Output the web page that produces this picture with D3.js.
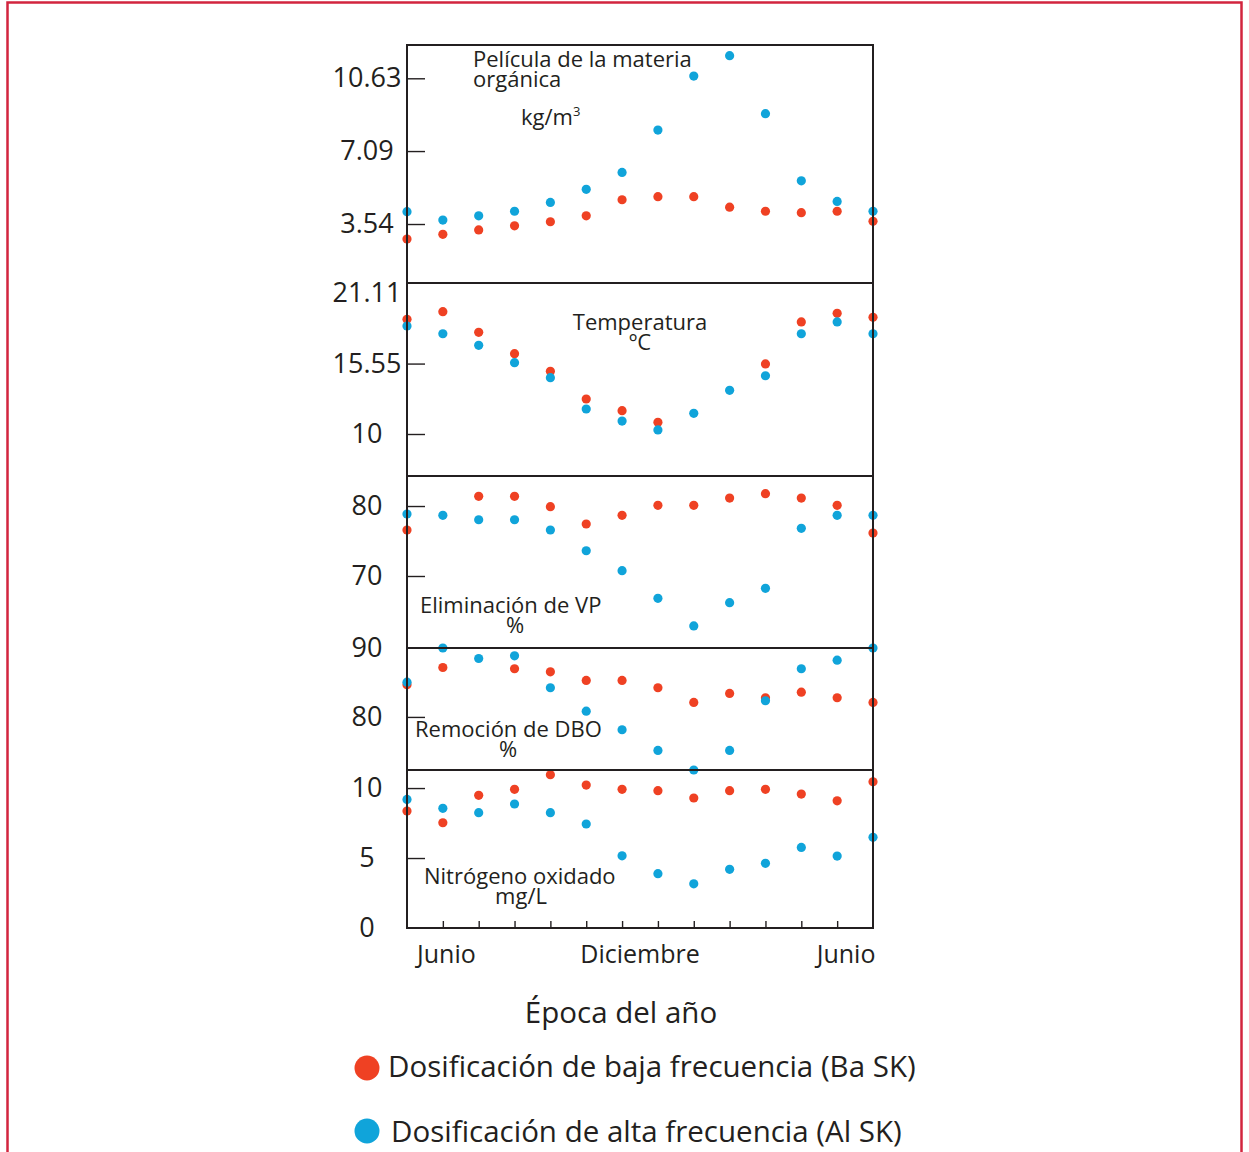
<!DOCTYPE html>
<html><head><meta charset="utf-8">
<script src="https://cdn.jsdelivr.net/npm/d3@7"></script>
<style>
body{margin:0;background:#fff}
svg{display:block}
text{font-family:"Open Sans",sans-serif;fill:#231f20}
</style>
</head><body>
<svg id="chart" width="1249" height="1152"></svg>
<script>
// ---------- DATA ----------
const periods = [0,1,2,3,4,5,6,7,8,9,10,11,12,13];
const xTickValues = [1,2,3,4,5,6,7,8,9,10,11,12];
const xLabels = ["Junio","Diciembre","Junio"];
const xLabelAt = [1.1, 6.5, 12.25];

const peliculaBa = [2.81,3.04,3.25,3.45,3.65,3.94,4.72,4.87,4.87,4.36,4.16,4.09,4.16,3.67];
const peliculaAl = [4.14,3.73,3.94,4.16,4.59,5.23,6.05,8.11,10.74,11.73,8.91,5.64,4.64,4.16];
const peliculaTicks = [3.54,7.09,10.63];
const peliculaDomain = [0.67,12.25];

const temperaturaBa = [19.04,19.64,18.01,16.33,14.94,12.76,11.84,10.92,null,null,15.52,18.83,19.51,19.20];
const temperaturaAl = [18.51,17.90,16.99,15.62,14.44,11.97,11.02,10.32,11.63,13.44,14.59,17.90,18.83,17.90];
const temperaturaTicks = [10,15.55,21.11];
const temperaturaDomain = [6.69,21.9];

const vpBa = [76.57,null,81.39,81.39,79.9,77.43,78.67,80.1,80.1,81.14,81.76,81.14,80.1,76.14];
const vpAl = [78.86,78.67,78.04,78.04,76.57,73.61,70.76,66.81,62.86,66.19,68.24,76.81,78.67,78.67];
const vpTicks = [70,80];
const vpDomain = [59.71,84.29];

const dboBa = [84.67,87.17,null,86.99,86.55,85.29,85.29,84.23,82.10,83.41,82.78,83.59,82.78,82.10];
const dboAl = [85.04,90.0,88.48,88.87,84.23,80.84,78.14,75.14,72.3,75.14,82.35,86.99,88.23,90.0];
const dboTicks = [80,90];
const dboDomain = [72.3,90];

const nitroBa = [8.36,7.52,9.48,9.91,10.95,10.21,9.91,9.81,9.29,9.81,9.91,9.57,9.09,10.45];
const nitroAl = [9.19,8.55,8.24,8.86,8.24,7.43,5.16,3.88,3.16,4.19,4.62,5.76,5.14,6.48];
const nitroTicks = [0,5,10];
const nitroDomain = [0,11.29];

const seriesNames = ["Dosificación de baja frecuencia (Ba SK)","Dosificación de alta frecuencia (Al SK)"];
const xTitle = "Época del año";

// ---------- LAYOUT ----------
const RED = "#ef4123", BLUE = "#10a4da", INK = "#231f20";
const X0 = 407, X1 = 873;
const svg = d3.select("#chart");

svg.append("rect").attr("x",7.5).attr("y",2.5).attr("width",1234).attr("height",1200)
  .attr("fill","none").attr("stroke","#d2253e").attr("stroke-width",2.5);

const x = d3.scaleLinear().domain([0,13]).range([X0,X1]);

const panels = [
  {ba:peliculaBa, al:peliculaAl, ticks:peliculaTicks, domain:peliculaDomain, top:45, bottom:283,
   labels:[{t:"Película de la materia",x:473,y:66.5,a:"start"},{t:"orgánica",x:473,y:86.5,a:"start"}]},
  {ba:temperaturaBa, al:temperaturaAl, ticks:temperaturaTicks, domain:temperaturaDomain, top:283, bottom:476,
   labels:[{t:"Temperatura",x:640,y:330,a:"middle"},{t:"ºC",x:640,y:350,a:"middle"}]},
  {ba:vpBa, al:vpAl, ticks:vpTicks, domain:vpDomain, top:476, bottom:648,
   labels:[{t:"Eliminación de VP",x:420,y:613,a:"start"},{t:"%",x:515,y:633,a:"middle"}]},
  {ba:dboBa, al:dboAl, ticks:dboTicks, domain:dboDomain, top:648, bottom:770,
   labels:[{t:"Remoción de DBO",x:415,y:737,a:"start"},{t:"%",x:508,y:757,a:"middle"}]},
  {ba:nitroBa, al:nitroAl, ticks:nitroTicks, domain:nitroDomain, top:770, bottom:928,
   labels:[{t:"Nitrógeno oxidado",x:424,y:884,a:"start"},{t:"mg/L",x:521,y:904,a:"middle"}]}
];

panels.forEach((p,pi) => {
  const y = d3.scaleLinear().domain(p.domain).range([p.bottom,p.top]);
  const ax = svg.append("g").attr("transform",`translate(${X0},0)`)
    .call(d3.axisLeft(y).tickValues(p.ticks).tickFormat(d=>String(d)).tickSize(-18).tickSizeOuter(0));
  ax.attr("font-family",null).attr("font-size",null);
  ax.select(".domain").remove();
  ax.selectAll(".tick line").attr("stroke",INK).attr("stroke-width",1.4)
    .attr("opacity", d => (Math.abs(y(d)-p.top) < 12 || Math.abs(y(d)-p.bottom) < 2) ? 0 : 1);
  ax.selectAll(".tick text").attr("x",-40).attr("text-anchor","middle")
    .style("font-size","27px").style("fill",INK).style("font-family","'Open Sans',sans-serif");

  p.labels.forEach(l => {
    svg.append("text").attr("x",l.x).attr("y",l.y).attr("text-anchor",l.a)
      .style("font-size","22px").text(l.t);
  });

  const gp = svg.append("g");
  [[p.ba,RED],[p.al,BLUE]].forEach(([vals,col]) => {
    gp.selectAll(null).data(periods.filter(i => vals[i] !== null)).enter().append("circle")
      .attr("cx", i => x(i)).attr("cy", i => y(vals[i])).attr("r",4.6).attr("fill",col);
  });
});

// unit for panel 1
const kg = svg.append("text").attr("x",521).attr("y",125).style("font-size","22px");
kg.append("tspan").text("kg/m");
kg.append("tspan").attr("dy",-9).style("font-size","13px").text("3");

// frame and dividers
svg.append("rect").attr("x",X0).attr("y",45).attr("width",X1-X0).attr("height",928-45)
  .attr("fill","none").attr("stroke",INK).attr("stroke-width",2);
panels.slice(0,4).forEach(p => {
  svg.append("line").attr("x1",X0).attr("x2",X1).attr("y1",p.bottom).attr("y2",p.bottom)
    .attr("stroke",INK).attr("stroke-width",2);
});

// x axis ticks
const xa = svg.append("g").attr("transform","translate(0,928)")
  .call(d3.axisBottom(x).tickValues(xTickValues).tickFormat("").tickSize(-7).tickSizeOuter(0));
xa.select(".domain").remove();
xa.selectAll("line").attr("stroke",INK).attr("stroke-width",1.4);

svg.selectAll(".xlab").data(xLabels).enter().append("text")
  .attr("x",(d,i)=>x(xLabelAt[i])).attr("y",963).attr("text-anchor","middle")
  .style("font-size","25px").text(d=>d);

svg.append("text").attr("x",621).attr("y",1023).attr("text-anchor","middle")
  .style("font-size","29.5px").text(xTitle);

// legend
[[RED,1068,388,1077],[BLUE,1131,391,1142]].forEach(([col,cy,tx,ty],i) => {
  svg.append("circle").attr("cx",367).attr("cy",cy).attr("r",12.5).attr("fill",col);
  svg.append("text").attr("x",tx).attr("y",ty).style("font-size","29.5px").text(seriesNames[i]);
});
</script>
</body></html>
